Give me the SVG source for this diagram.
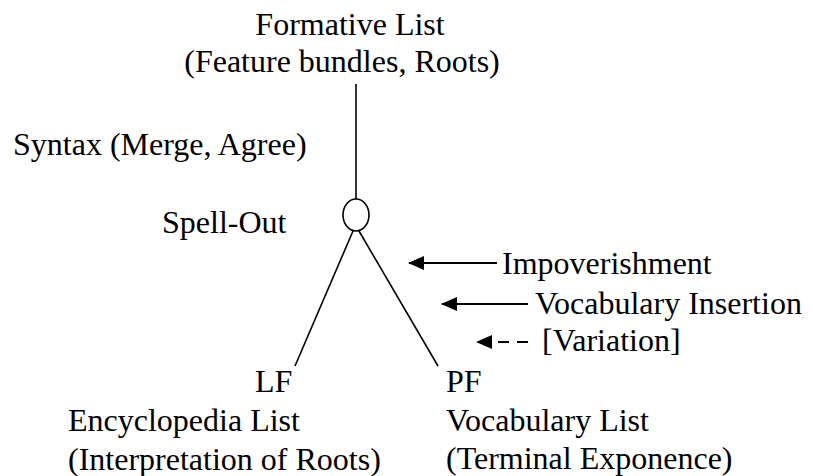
<svg xmlns="http://www.w3.org/2000/svg" width="813" height="476" viewBox="0 0 813 476">
  <style>
    text { font-family: "Liberation Serif", "Times New Roman", serif; font-size: 32px; fill: #000; }
    .branch { stroke: #000; stroke-width: 1.6; fill: none; }
    .arrow { stroke: #000; stroke-width: 2.2; fill: none; }
    .dashed { stroke-dasharray: 11 8; }
  </style>
  <defs>
    <marker id="head" markerWidth="16" markerHeight="14" refX="15" refY="7" orient="auto" markerUnits="userSpaceOnUse">
      <path d="M0,0 L16,7 L0,14 Z" fill="#000"/>
    </marker>
  </defs>

  <rect width="813" height="476" fill="#fff"/>

  <g id="formative-list">
    <text x="350" y="35" text-anchor="middle">Formative List</text>
    <text x="342" y="72" text-anchor="middle">(Feature bundles, Roots)</text>
  </g>

  <g id="syntax">
    <text x="13" y="155">Syntax (Merge, Agree)</text>
  </g>

  <g id="spell-out">
    <text x="162" y="233">Spell-Out</text>
    <ellipse cx="356" cy="215" rx="13" ry="16" fill="#fff" stroke="#000" stroke-width="1.6"/>
  </g>

  <g id="lf">
    <text x="255" y="392">LF</text>
    <text x="68" y="431">Encyclopedia List</text>
    <text x="68" y="470">(Interpretation of Roots)</text>
  </g>

  <g id="pf">
    <text x="446" y="392">PF</text>
    <text x="446" y="431">Vocabulary List</text>
    <text x="446" y="469">(Terminal Exponence)</text>
  </g>

  <g id="impoverishment">
    <text x="502" y="274">Impoverishment</text>
  </g>

  <g id="vocabulary-insertion">
    <text x="535" y="314">Vocabulary Insertion</text>
  </g>

  <g id="variation">
    <text x="542" y="351">[Variation]</text>
  </g>

  <g id="connectors">
    <line class="branch" x1="356" y1="84" x2="356" y2="199"/>
    <line class="branch" x1="353" y1="231" x2="295" y2="366"/>
    <line class="branch" x1="359" y1="231" x2="438" y2="366"/>
    <line class="arrow" x1="497" y1="263" x2="409" y2="263" marker-end="url(#head)"/>
    <line class="arrow" x1="528" y1="304" x2="442" y2="304" marker-end="url(#head)"/>
    <line class="arrow dashed" x1="528" y1="342" x2="477" y2="342" marker-end="url(#head)"/>
  </g>
</svg>
